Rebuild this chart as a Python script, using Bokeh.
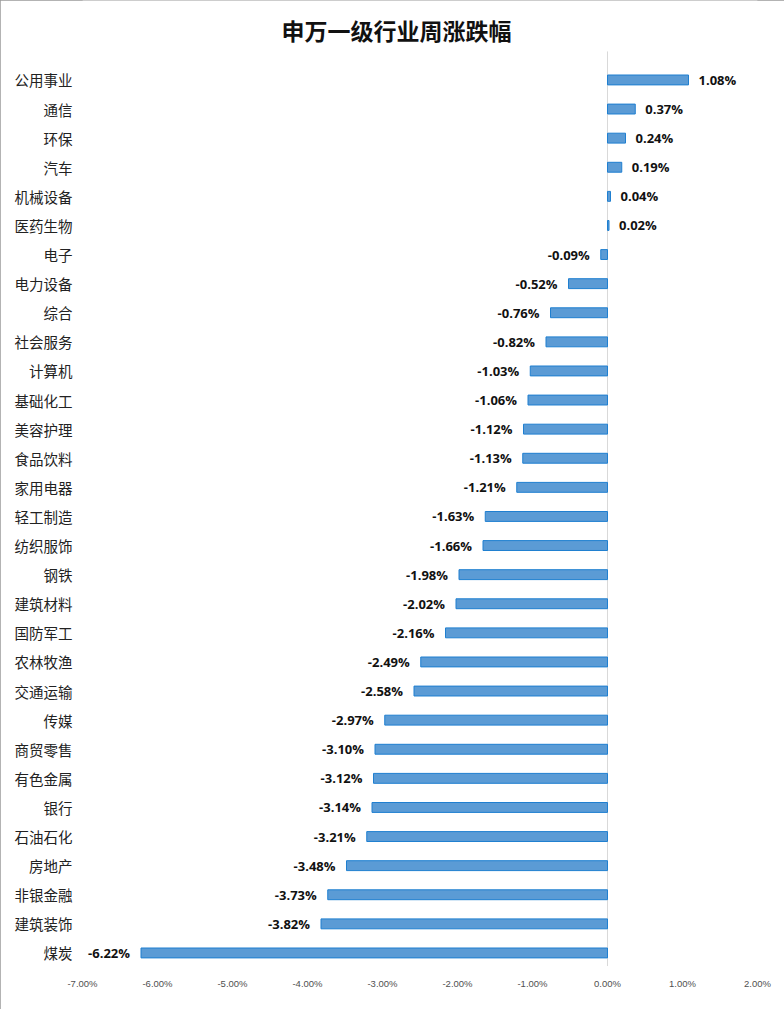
from bokeh.plotting import figure
from bokeh.models import Range1d, FixedTicker, ColumnDataSource, Label
from bokeh.core.properties import value
from bokeh.embed import file_html
from bokeh.resources import INLINE

categories = ["公用事业", "通信", "环保", "汽车", "机械设备", "医药生物", "电子", "电力设备",
              "综合", "社会服务", "计算机", "基础化工", "美容护理", "食品饮料", "家用电器",
              "轻工制造", "纺织服饰", "钢铁", "建筑材料", "国防军工", "农林牧渔", "交通运输",
              "传媒", "商贸零售", "有色金属", "银行", "石油石化", "房地产", "非银金融",
              "建筑装饰", "煤炭"]
changes = [1.08, 0.37, 0.24, 0.19, 0.04, 0.02, -0.09, -0.52, -0.76, -0.82, -1.03, -1.06,
           -1.12, -1.13, -1.21, -1.63, -1.66, -1.98, -2.02, -2.16, -2.49, -2.58, -2.97,
           -3.10, -3.12, -3.14, -3.21, -3.48, -3.73, -3.82, -6.22]
tick_values = [-7, -6, -5, -4, -3, -2, -1, 0, 1, 2]
tick_labels = ["-7.00%", "-6.00%", "-5.00%", "-4.00%", "-3.00%", "-2.00%", "-1.00%",
               "0.00%", "1.00%", "2.00%"]
title_text = "申万一级行业周涨跌幅"

n = len(categories)
ypos = [n - 1 - i for i in range(n)]
label_text = [f"{v:.2f}%" for v in changes]
label_align = ["left" if v >= 0 else "right" for v in changes]
label_off = [10 if v >= 0 else -11 for v in changes]

src = ColumnDataSource(dict(y=ypos, val=changes, txt=label_text,
                            align=label_align, off=label_off))

ROW_PX = 29.1
FRAME_H = 1009 - 42
y_start = -0.5
y_end = y_start + FRAME_H / ROW_PX

p = figure(width=784, height=1009, output_backend="svg", toolbar_location=None,
           y_range=Range1d(y_start, y_end), x_range=Range1d(-7, 2),
           min_border_left=82, min_border_right=27, min_border_top=0, min_border_bottom=42,
           styles={"outline": "1px solid #9a9a9a", "outline-offset": "-1px"})

p.outline_line_color = None
p.xgrid.grid_line_color = None
p.ygrid.grid_line_color = None
p.background_fill_color = "white"
p.border_fill_color = "white"

# title placed in the (extended) frame area above the bars
title_y = y_start + (FRAME_H - 29) / ROW_PX
title_x = -7 + (396 - 82) / 75.0
p.add_layout(Label(x=title_x, y=title_y, text=title_text,
                   text_align="center", text_baseline="middle",
                   text_font="Noto Sans CJK SC", text_font_size="23px",
                   text_font_style="bold", text_color="#111111"))

# zero axis line
p.segment(x0=[0], y0=[-0.45], x1=[0], y1=[n - 1 + 0.98], line_color="#d9d9d9", line_width=1)

p.hbar(y="y", right="val", left=0, height=0.34, source=src,
       fill_color="#5B9BD5", line_color="#1F7FD0", line_width=1)

p.text(x="val", y="y", text="txt", source=src, text_align="align", x_offset="off",
       text_baseline="middle", text_font=value("Open Sans"), text_font_size="13px",
       text_font_style="bold", text_color="#111111")

p.yaxis.ticker = FixedTicker(ticks=ypos)
p.yaxis.major_label_overrides = {y: c for y, c in zip(ypos, categories)}
p.yaxis.axis_line_color = None
p.yaxis.major_tick_line_color = None
p.yaxis.minor_tick_line_color = None
p.yaxis.major_tick_out = 0
p.yaxis.major_tick_in = 0
p.yaxis.major_label_standoff = 10
p.yaxis.major_label_text_font = "Noto Sans CJK SC"
p.yaxis.major_label_text_font_size = "14.5px"
p.yaxis.major_label_text_color = "#222222"

p.xaxis.ticker = FixedTicker(ticks=tick_values)
p.xaxis.major_label_overrides = {t: l for t, l in zip(tick_values, tick_labels)}
p.xaxis.axis_line_color = None
p.xaxis.major_tick_line_color = None
p.xaxis.minor_tick_line_color = None
p.xaxis.major_tick_out = 0
p.xaxis.major_tick_in = 0
p.xaxis.major_label_standoff = 10
p.xaxis.major_label_text_font = "Liberation Sans"
p.xaxis.major_label_text_font_size = "9.5px"
p.xaxis.major_label_text_color = "#505050"

open("out.html", "w").write(file_html(p, INLINE))
